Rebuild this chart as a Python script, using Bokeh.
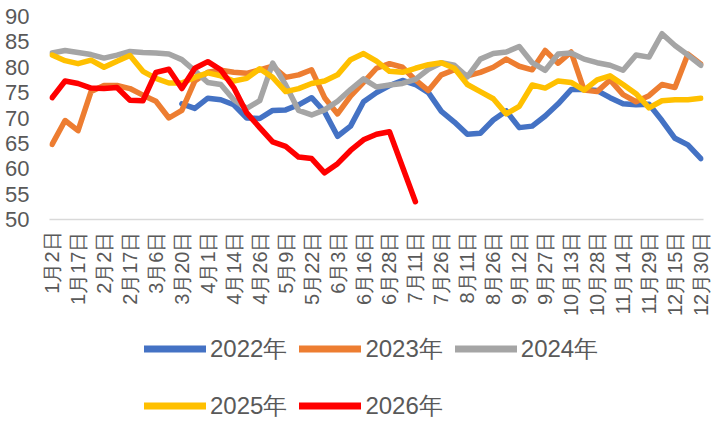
from math import pi
from bokeh.plotting import figure
from bokeh.layouts import column
from bokeh.models import Range1d, FixedTicker, Legend, LegendItem
from bokeh.embed import file_html
from bokeh.resources import INLINE

# ---- data ----
tick_labels = ["1月2日", "1月17日", "2月2日", "2月17日", "3月6日", "3月20日", "4月1日",
               "4月14日", "4月26日", "5月9日", "5月22日", "6月3日", "6月16日", "6月28日",
               "7月11日", "7月26日", "8月11日", "8月26日", "9月12日", "9月27日",
               "10月13日", "10月28日", "11月14日", "11月29日", "12月15日", "12月30日"]
n_categories = 51

y2022_start = 10
y2022 = [72.8, 71.9, 73.9, 73.6, 72.6, 70.0, 69.9, 71.5, 71.6, 72.6,
         74.0, 71.2, 66.4, 68.4, 73.2, 75.0, 76.4, 77.4, 76.6, 75.0,
         71.3, 69.2, 66.8, 67.0, 69.6, 71.4, 68.1, 68.4, 70.4, 72.8,
         75.6, 75.6, 75.4, 74.0, 72.8, 72.6, 72.7, 69.5, 66.0, 64.7, 62.0]

y2023 = [64.8, 69.5, 67.5, 75.2, 76.4, 76.4, 75.8, 74.5, 73.3, 70.0,
         71.5, 77.3, 79.0, 79.4, 79.0, 78.8, 79.5, 80.2, 78.0, 78.5,
         79.5, 74.0, 70.8, 74.3, 77.0, 79.8, 80.7, 80.0, 77.5, 75.4,
         78.5, 79.5, 78.3, 79.0, 80.0, 81.6, 80.2, 79.5, 83.3, 80.8,
         83.0, 75.5, 75.2, 77.5, 74.6, 73.2, 74.4, 76.6, 76.0, 82.6, 80.6]

y2024 = [82.8, 83.3, 82.9, 82.5, 81.8, 82.4, 83.1, 82.9, 82.8, 82.6,
         81.5, 79.3, 77.0, 76.6, 73.6, 71.9, 73.4, 80.8, 76.5, 71.5,
         70.6, 71.6, 73.3, 75.6, 77.7, 76.1, 76.5, 76.8, 77.6, 79.6,
         80.9, 80.4, 78.1, 81.6, 82.7, 83.0, 84.1, 80.9, 79.4, 82.6,
         82.8, 81.6, 80.9, 80.4, 79.4, 82.4, 82.0, 86.6, 84.3, 82.4, 80.4]

y2025 = [82.4, 81.3, 80.7, 81.4, 80.0, 81.2, 82.3, 79.2, 77.8, 76.9,
         76.9, 78.0, 78.9, 78.3, 77.3, 77.8, 79.7, 78.0, 75.2, 75.8,
         76.8, 77.3, 78.5, 81.5, 82.7, 81.2, 79.2, 79.0, 79.8, 80.5,
         80.9, 79.8, 76.6, 75.2, 73.8, 70.8, 72.3, 76.5, 75.9, 77.3,
         77.0, 75.5, 77.5, 78.3, 76.6, 74.8, 72.0, 73.4, 73.6, 73.6, 73.9]

y2026 = [74.0, 77.3, 76.8, 75.9, 75.8, 76.0, 73.5, 73.4, 79.0, 79.6,
         75.8, 79.8, 81.1, 79.5, 76.0, 71.0, 68.1, 65.3, 64.4, 62.3,
         62.0, 59.2, 61.0, 63.6, 65.7, 66.8, 67.3, 60.4, 53.5]

series = [
    ("2022年", y2022_start, y2022, "#4472C4"),
    ("2023年", 0, y2023, "#ED7D31"),
    ("2024年", 0, y2024, "#A5A5A5"),
    ("2025年", 0, y2025, "#FFC000"),
    ("2026年", 0, y2026, "#FF0000"),
]

y_ticks = [50, 55, 60, 65, 70, 75, 80, 85, 90]

FONT = "Liberation Sans"
TXT = "#595959"

# ---- main chart ----
p = figure(width=717, height=320, output_backend="svg", toolbar_location=None,
           x_range=Range1d(-0.2, n_categories - 1 + 0.2), y_range=Range1d(50, 90),
           min_border_left=49, min_border_right=14, min_border_top=16, min_border_bottom=101)
p.outline_line_color = None
p.xgrid.grid_line_color = None
p.ygrid.grid_line_color = None

for name, start, vals, color in series:
    xs = list(range(start, start + len(vals)))
    p.line(xs, vals, line_color=color, line_width=5.5, line_join="round", line_cap="round")

xa = p.xaxis[0]
xa.ticker = FixedTicker(ticks=list(range(0, n_categories, 2)))
xa.major_label_overrides = {i * 2: lab for i, lab in enumerate(tick_labels)}
xa.major_label_orientation = pi / 2
xa.major_label_text_font = FONT
xa.major_label_text_font_size = "20px"
xa.major_label_text_color = TXT
xa.major_tick_line_color = None
xa.minor_tick_line_color = None
xa.axis_line_color = "#D9D9D9"
xa.axis_line_width = 1.5
xa.major_label_standoff = 6

ya = p.yaxis[0]
ya.ticker = FixedTicker(ticks=y_ticks)
ya.major_label_text_font = FONT
ya.major_label_text_font_size = "22px"
ya.major_label_text_color = TXT
ya.major_tick_line_color = None
ya.minor_tick_line_color = None
ya.axis_line_color = None
ya.major_label_standoff = 14

# ---- legend strip ----
q = figure(width=717, height=105, output_backend="svg", toolbar_location=None,
           x_range=Range1d(0, 1), y_range=Range1d(0, 1),
           x_axis_type=None, y_axis_type=None,
           min_border_left=0, min_border_right=0, min_border_top=0, min_border_bottom=0)
q.outline_line_color = None
q.xgrid.grid_line_color = None
q.ygrid.grid_line_color = None

items = []
for name, start, vals, color in series:
    r = q.line([-10, -9], [-10, -9], line_color=color, line_width=7, line_cap="round")
    items.append(LegendItem(label=name, renderers=[r]))

legend = Legend(items=items, location=(95, -3), orientation="horizontal", ncols=3,
                glyph_width=62, glyph_height=45, label_height=45, spacing=12,
                label_standoff=4, padding=0, margin=0, border_line_color=None,
                background_fill_alpha=0, label_text_font=FONT,
                label_text_font_size="24px", label_text_color=TXT)
q.add_layout(legend)

layout = column(p, q, spacing=0)
open("out.html", "w").write(file_html(layout, INLINE))
